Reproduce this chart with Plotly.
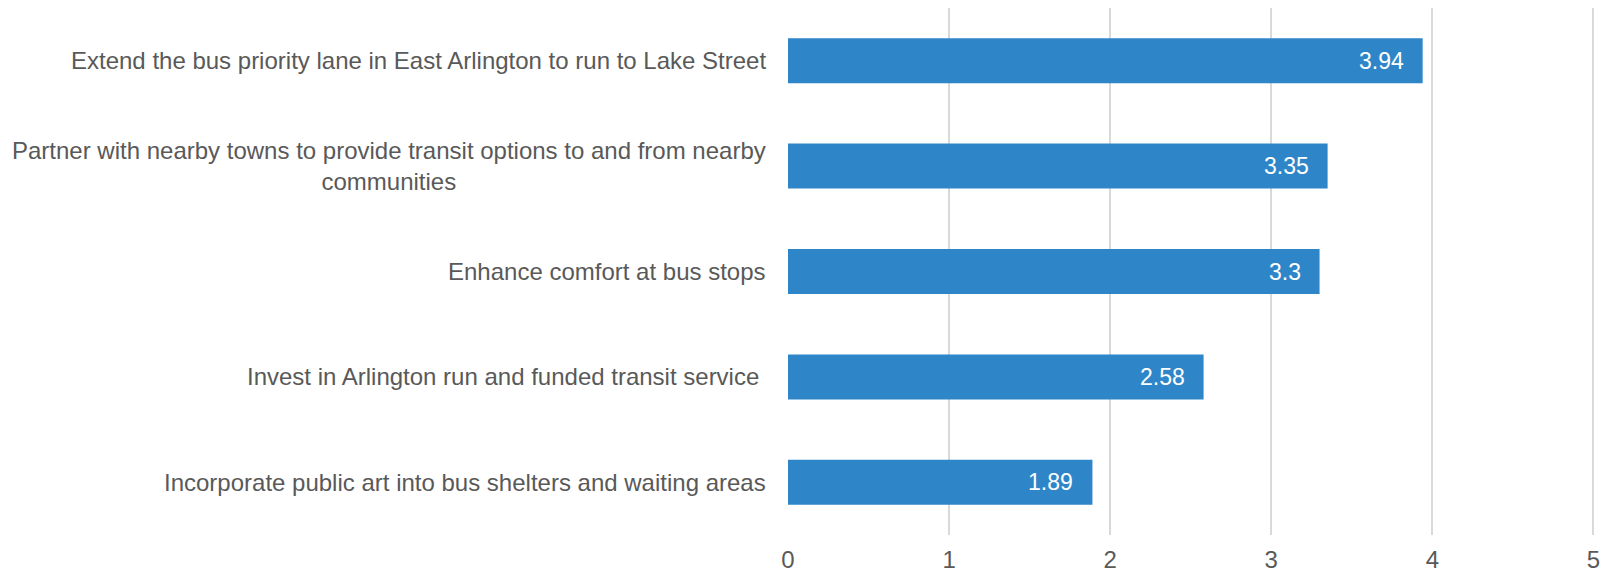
import plotly.graph_objects as go

categories = [
    "Extend the bus priority lane in East Arlington to run to Lake Street",
    "Partner with nearby towns to provide transit options to and from nearby<br>communities",
    "Enhance comfort at bus stops",
    "Invest in Arlington run and funded transit service\u00a0",
    "Incorporate public art into bus shelters and waiting areas",
]
values = [3.94, 3.35, 3.3, 2.58, 1.89]
value_labels = ["3.94", "3.35", "3.3", "2.58", "1.89"]
x_ticks = [0, 1, 2, 3, 4, 5]

FONT = "Liberation Sans, Arial, sans-serif"
GRAY = "#595959"
BAR = "#2E86C8"

fig = go.Figure()
fig.add_trace(go.Bar(
    x=values,
    y=categories,
    orientation="h",
    marker=dict(color=BAR, line=dict(width=0)),
    hoverinfo="skip",
))

annotations = []
for cat, v, lab in zip(categories, values, value_labels):
    annotations.append(dict(
        x=v, y=cat, xref="x", yref="y", text=lab, showarrow=False,
        xanchor="right", yanchor="middle", xshift=-17,
        font=dict(family=FONT, size=23, color="white"),
    ))
    annotations.append(dict(
        x=0, y=cat, xref="paper", yref="y", text=cat, showarrow=False,
        xanchor="right", yanchor="middle", xshift=-20, align="center",
        font=dict(family=FONT, size=24, color=GRAY),
    ))

fig.update_layout(
    width=1604, height=574,
    margin=dict(l=788, r=9, t=8, b=39),
    paper_bgcolor="white", plot_bgcolor="white",
    bargap=0.573,
    showlegend=False,
    annotations=annotations,
    xaxis=dict(
        range=[0, 5.01], tickvals=x_ticks, showgrid=True, gridcolor="#D9D9D9", gridwidth=2,
        zeroline=False, showline=False, ticks="",
        tickfont=dict(family=FONT, size=24, color=GRAY),
        ticklabelstandoff=8, ticklabeloverflow="allow",
        fixedrange=True, automargin=False,
    ),
    yaxis=dict(
        autorange="reversed", showticklabels=False, showgrid=False, zeroline=False,
        showline=False, ticks="", fixedrange=True,
    ),
)

fig.write_html(
    "out.html",
    config={"displayModeBar": False},
    post_script="document.body.style.margin='0';document.body.style.overflow='hidden';",
)
